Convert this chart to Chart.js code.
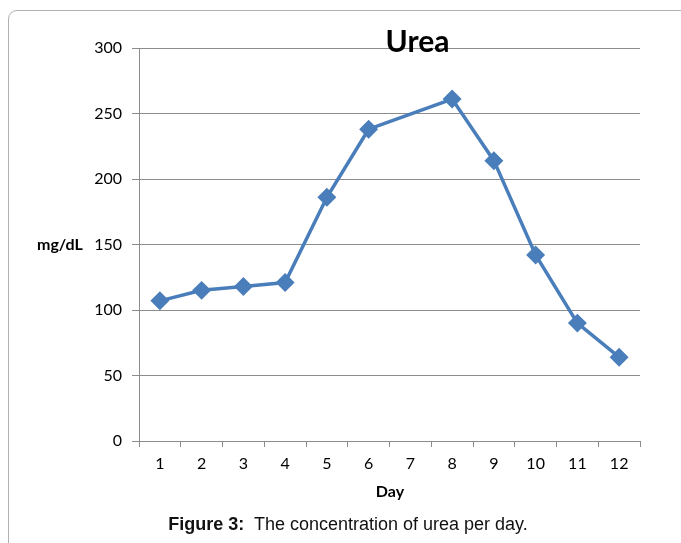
<!DOCTYPE html>
<html>
<head>
<meta charset="utf-8">
<script src="https://cdn.jsdelivr.net/npm/chart.js@4"></script>
<style>
  html, body { margin: 0; padding: 0; background: #fff; }
  #wrap { position: relative; width: 681px; height: 543px; overflow: hidden; }
  #frame { position: absolute; left: 8px; top: 10px; width: 700px; height: 600px;
           border: 1px solid #b0b0b0; border-radius: 9px; }
  #chartBox { position: absolute; left: 0; top: 0; width: 681px; height: 543px; }
  #caption { position: absolute; left: 0; width: 696px; top: 514px; text-align: center;
             font-family: "Liberation Sans", Arial, sans-serif; font-size: 18px; color: #111; }
</style>
</head>
<body>
<div id="wrap">
  <div id="frame"></div>
  <div id="chartBox"><canvas id="ureaChart" width="681" height="543"></canvas></div>
  <div id="caption"><b>Figure 3:</b>&nbsp; The concentration of urea per day.</div>
</div>
<script>
// chart data
var days = ["1", "2", "3", "4", "5", "6", "7", "8", "9", "10", "11", "12"];
var ureaValues = [107, 115, 118, 121, 186, 238, null, 261, 214, 142, 90, 64];
var yTicks = [0, 50, 100, 150, 200, 250, 300];

var chartTitle = "Urea";
var yLabel = "mg/dL";
var xLabel = "Day";

// draws title and axis labels the way the original sheet had them
var labelsPlugin = {
  id: "labels",
  afterDraw: function(chart) {
    var ctx = chart.ctx;
    var area = chart.chartArea;
    var y = chart.scales.y;
    ctx.save();
    ctx.fillStyle = "#000";

    ctx.font = "bold 30px Lato, sans-serif";
    ctx.textAlign = "center";
    ctx.textBaseline = "alphabetic";
    ctx.fillText(chartTitle, 417.5, 52);

    ctx.textBaseline = "middle";
    ctx.font = "bold 16px Lato, sans-serif";
    ctx.textAlign = "left";
    ctx.fillText(yLabel, 37, y.getPixelForValue(150));

    ctx.textAlign = "center";
    ctx.fillText(xLabel, 390, area.bottom + 51);
    ctx.restore();
  }
};

var ctx = document.getElementById("ureaChart").getContext("2d");
var ureaChart = new Chart(ctx, {
  type: "line",
  data: {
    labels: days,
    datasets: [{
      label: chartTitle,
      data: ureaValues,
      spanGaps: true,
      borderColor: "#4a7ebb",
      backgroundColor: "#4a7ebb",
      borderWidth: 3.5,
      pointStyle: "rectRot",
      pointRadius: 7,
      pointHoverRadius: 7,
      tension: 0
    }]
  },
  options: {
    responsive: false,
    animation: false,
    layout: {
      padding: { top: 48, right: 41, left: 0, bottom: 0 }
    },
    plugins: {
      legend: { display: false },
      title: { display: false },
      tooltip: { enabled: false }
    },
    scales: {
      x: {
        type: "category",
        offset: true,
        afterFit: function(scale) { scale.height = 102; },
        grid: {
          offset: true,
          drawOnChartArea: false,
          drawTicks: true,
          tickLength: 6,
          color: "#8c8c8c"
        },
        border: { display: true, color: "#8c8c8c", width: 1 },
        ticks: {
          color: "#000",
          padding: 7,
          maxRotation: 0,
          autoSkip: false,
          font: { family: "Lato, sans-serif", size: 16 }
        }
      },
      y: {
        min: 0,
        max: 300,
        afterFit: function(scale) { scale.width = 139; },
        afterBuildTicks: function(scale) {
          scale.ticks = yTicks.map(function(v) { return { value: v }; });
        },
        grid: {
          color: "#8c8c8c",
          lineWidth: 1,
          tickLength: 7
        },
        border: { display: true, color: "#8c8c8c", width: 1 },
        ticks: {
          color: "#000",
          padding: 10,
          font: { family: "Lato, sans-serif", size: 16 }
        }
      }
    }
  },
  plugins: [labelsPlugin]
});
</script>
</body>
</html>
